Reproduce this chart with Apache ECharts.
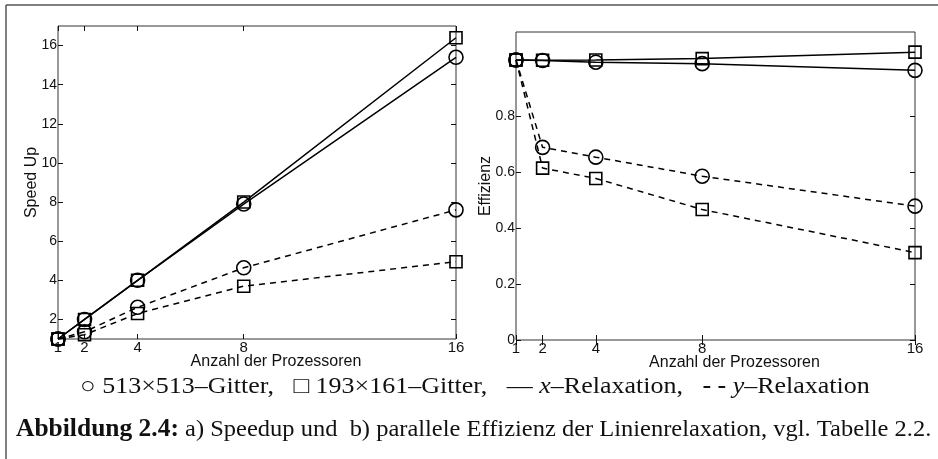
<!DOCTYPE html>
<html>
<head>
<meta charset="utf-8">
<script src="https://cdn.jsdelivr.net/npm/echarts@6/dist/echarts.min.js"></script>
<style>
  html, body { margin: 0; padding: 0; background: #fff; }
  #chart { width: 938px; height: 459px; }
</style>
</head>
<body>
<div id="chart"></div>
<script>
const procs = [1, 2, 4, 8, 16];
const speedupX513 = [1, 2, 4, 7.9, 15.4];
const speedupX193 = [1, 2, 4, 8.0, 16.4];
const speedupY513 = [1, 1.37, 2.62, 4.64, 7.6];
const speedupY193 = [1, 1.22, 2.3, 3.7, 4.95];
const effX513 = [1, 0.998, 0.992, 0.987, 0.963];
const effX193 = [1, 0.999, 1.0, 1.005, 1.028];
const effY513 = [1, 0.688, 0.653, 0.585, 0.478];
const effY193 = [1, 0.614, 0.577, 0.466, 0.312];
const speedupTicks = [2, 4, 6, 8, 10, 12, 14, 16];
const effTicks = [0, 0.2, 0.4, 0.6, 0.8];

const sans = "Liberation Sans";
const serif = "Liberation Serif";
const ink = "#111";

const chart = echarts.init(document.getElementById("chart"), null, { renderer: "canvas" });

const pairs = (ys) => procs.map((x, i) => [x, ys[i]]);

function xAxes(gridIndex) {
  const base = {
    type: "value",
    gridIndex,
    min: 1,
    max: 16,
    splitLine: { show: false },
    axisLine: { show: false },
    axisTick: { inside: true, length: 5, customValues: procs, lineStyle: { color: ink } },
  };
  return [
    {
      ...base,
      position: "bottom",
      name: "Anzahl der Prozessoren",
      nameLocation: "middle",
      nameGap: 15,
      nameMoveOverlap: false,
      nameTextStyle: { fontFamily: sans, fontSize: 16, color: ink, padding: [0, 0, 0, 38] },
      axisLabel: { customValues: procs, margin: 1, fontFamily: sans, fontSize: 15, color: ink },
    },
    { ...base, position: "top", axisLabel: { show: false } },
  ];
}

function yAxes(gridIndex, min, max, ticks, name, nameGap, fmt) {
  const base = {
    type: "value",
    gridIndex,
    min,
    max,
    splitLine: { show: false },
    axisLine: { show: false },
    axisTick: { inside: true, length: 5, customValues: ticks, lineStyle: { color: ink } },
  };
  return [
    {
      ...base,
      position: "left",
      name,
      nameLocation: "middle",
      nameGap,
      nameMoveOverlap: false,
      nameTextStyle: { fontFamily: sans, fontSize: 16, color: ink },
      axisLabel: { customValues: ticks, margin: 1, fontFamily: sans, fontSize: 14, color: ink, formatter: fmt },
    },
    { ...base, position: "right", axisLabel: { show: false } },
  ];
}

function line(name, data, xi, yi, symbol, dashed) {
  return {
    name,
    type: "line",
    xAxisIndex: xi,
    yAxisIndex: yi,
    data,
    symbol,
    symbolSize: symbol === "circle" ? 14 : 12,
    showSymbol: true,
    animation: false,
    lineStyle: { color: "#000", width: 1.5, type: dashed ? [6, 5] : "solid" },
    itemStyle: { color: "rgba(0,0,0,0)", borderColor: "#000", borderWidth: 1.6 },
  };
}

chart.setOption({
  animation: false,
  grid: [
    { left: 58, top: 26, width: 398, height: 313, show: true, borderColor: "#333", borderWidth: 1 },
    { left: 516, top: 32, width: 399, height: 308, show: true, borderColor: "#333", borderWidth: 1 },
  ],
  xAxis: [...xAxes(0), ...xAxes(1)],
  yAxis: [
    ...yAxes(0, 1, 17, speedupTicks, "Speed Up", 18, (v) => String(v)),
    ...yAxes(1, 0, 1.1, effTicks, "Effizienz", 22, (v) => String(+v.toFixed(1))),
  ],
  series: [
    line("x 513", pairs(speedupX513), 0, 0, "circle", false),
    line("x 193", pairs(speedupX193), 0, 0, "rect", false),
    line("y 513", pairs(speedupY513), 0, 0, "circle", true),
    line("y 193", pairs(speedupY193), 0, 0, "rect", true),
    line("x 513", pairs(effX513), 2, 2, "circle", false),
    line("x 193", pairs(effX193), 2, 2, "rect", false),
    line("y 513", pairs(effY513), 2, 2, "circle", true),
    line("y 193", pairs(effY193), 2, 2, "rect", true),
  ],
  graphic: [
    // figure frame (left and top edge of the scanned box)
    { type: "line", shape: { x1: 6, y1: 5, x2: 938, y2: 5 }, style: { stroke: "#555", lineWidth: 1.5 } },
    { type: "line", shape: { x1: 6, y1: 5, x2: 6, y2: 459 }, style: { stroke: "#555", lineWidth: 1.5 } },
    {
      type: "text",
      x: 80,
      y: 387,
      scaleX: 1.13,
      style: {
        text: "{s|○} 513×513–Gitter,   {s|□} 193×161–Gitter,   — {i|x}–Relaxation,   {b|- -} {i|y}–Relaxation",
        font: "23px " + serif,
        fill: "#111",
        verticalAlign: "middle",
        rich: {
          s: { fontFamily: serif, fontSize: 23, fill: "#111" },
          i: { fontFamily: serif, fontSize: 23, fontStyle: "italic", fill: "#111" },
          b: { fontFamily: serif, fontSize: 23, fontWeight: "bold", fill: "#111" },
        },
      },
    },
    {
      type: "text",
      x: 16,
      y: 430,
      scaleX: 1.02,
      style: {
        text: "{h|Abbildung 2.4:} a) Speedup und  b) parallele Effizienz der Linienrelaxation, vgl. Tabelle 2.2.",
        font: "24px " + serif,
        fill: "#111",
        verticalAlign: "middle",
        rich: {
          h: { fontFamily: serif, fontSize: 25, fontWeight: "bold", fill: "#111" },
        },
      },
    },
  ],
});
</script>
</body>
</html>
